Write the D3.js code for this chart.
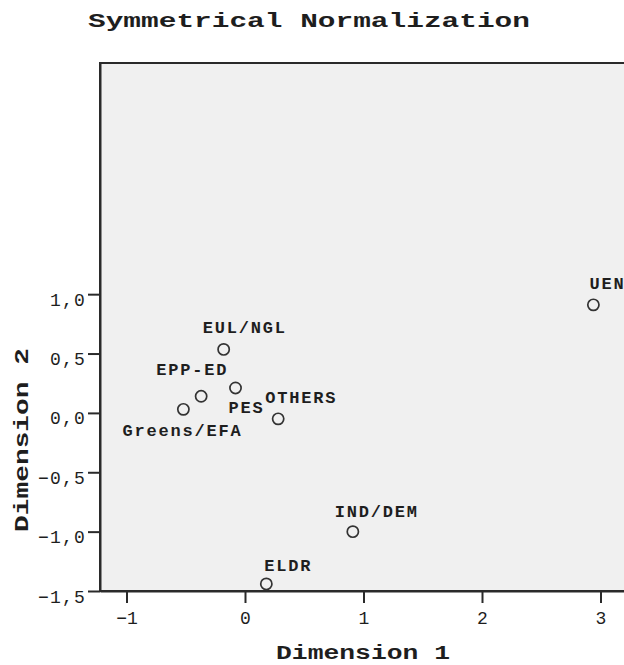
<!DOCTYPE html>
<html>
<head>
<meta charset="utf-8">
<script src="https://cdn.jsdelivr.net/npm/d3@7"></script>
<style>
  html, body { margin: 0; padding: 0; background: #ffffff; }
  svg { display: block; }
</style>
</head>
<body>
<script>
// ---- data ----
const categories = ["UEN", "EUL/NGL", "EPP-ED", "PES", "Greens/EFA", "OTHERS", "IND/DEM", "ELDR"];
const dim1 = [2.94, -0.18, -0.37, -0.08, -0.52, 0.28, 0.91, 0.18];
const dim2 = [0.91, 0.535, 0.14, 0.21, 0.03, -0.05, -1.0, -1.44];
const xTicks = [-1, 0, 1, 2, 3];
const yTicks = [-1.5, -1, -0.5, 0, 0.5, 1];
const title = "Symmetrical Normalization";
const xTitle = "Dimension 1";
const yTitle = "Dimension 2";

// ---- layout (label placement offsets in px, not data) ----
const labelOffsets = [[-4, -16], [-21, -16], [-45, -21], [-7, 25], [-61, 27], [-13, -16], [-18, -15], [-2, -13]];

const W = 624, H = 665;
const plot = { left: 100, top: 63, right: 626, bottom: 591 };

const svg = d3.select("body").append("svg").attr("width", W).attr("height", H);

const x = d3.scaleLinear().domain([-1.2236, 3.2152]).range([plot.left, plot.right]);
const y = d3.scaleLinear().domain([-1.5, 2.947]).range([plot.bottom, plot.top]);

const mono = "'Liberation Mono', 'DejaVu Sans Mono', monospace";
const ink = "#1e1e1e";

// plot background + frame
svg.append("rect")
  .attr("x", plot.left).attr("y", plot.top)
  .attr("width", plot.right - plot.left).attr("height", plot.bottom - plot.top)
  .attr("fill", "#f0f0f0").attr("stroke", "#2a2a2a").attr("stroke-width", 2);

// x axis
const fmt = d => d3.format(".1f")(d).replace(".", ",");
const gx = svg.append("g").attr("transform", `translate(0,${plot.bottom})`)
  .call(d3.axisBottom(x).tickValues(xTicks).tickSize(12).tickSizeOuter(0).tickFormat(d3.format("d")));
gx.select(".domain").attr("stroke", "#2a2a2a").attr("stroke-width", 2);
gx.selectAll(".tick line").attr("stroke", "#2a2a2a").attr("stroke-width", 2);
gx.selectAll(".tick text")
  .attr("y", 33).attr("dy", 0)
  .attr("font-family", mono).attr("font-size", 18).attr("fill", ink);

// y axis
const gy = svg.append("g").attr("transform", `translate(${plot.left},0)`)
  .call(d3.axisLeft(y).tickValues(yTicks).tickSize(12).tickSizeOuter(0).tickFormat(fmt));
gy.select(".domain").attr("stroke", "#2a2a2a").attr("stroke-width", 2);
gy.selectAll(".tick line").attr("stroke", "#2a2a2a").attr("stroke-width", 2);
gy.selectAll(".tick text")
  .attr("x", -14).attr("dy", 11)
  .attr("font-family", mono).attr("font-size", 18).attr("letter-spacing", 1.2).attr("fill", ink);

// points
const pts = categories.map((c, i) => ({ name: c, d1: dim1[i], d2: dim2[i], off: labelOffsets[i] }));
svg.append("g").selectAll("circle").data(pts).join("circle")
  .attr("cx", d => x(d.d1)).attr("cy", d => y(d.d2)).attr("r", 5.6)
  .attr("fill", "none").attr("stroke", "#333").attr("stroke-width", 1.7);

svg.append("g").selectAll("text").data(pts).join("text")
  .attr("x", d => x(d.d1) + d.off[0]).attr("y", d => y(d.d2) + d.off[1])
  .attr("font-family", mono).attr("font-weight", "bold").attr("font-size", 17)
  .attr("letter-spacing", 1.8).attr("fill", ink)
  .text(d => d.name);

// titles
svg.append("text")
  .attr("x", 88).attr("y", 27)
  .attr("font-family", mono).attr("font-weight", "bold").attr("font-size", 20)
  .attr("textLength", 442).attr("lengthAdjust", "spacingAndGlyphs").attr("fill", ink)
  .text(title);

svg.append("text")
  .attr("x", 276).attr("y", 659)
  .attr("font-family", mono).attr("font-weight", "bold").attr("font-size", 20)
  .attr("textLength", 174).attr("lengthAdjust", "spacingAndGlyphs").attr("fill", ink)
  .text(xTitle);

svg.append("text")
  .attr("transform", "translate(28,532) rotate(-90)")
  .attr("font-family", mono).attr("font-weight", "bold").attr("font-size", 20)
  .attr("textLength", 184).attr("lengthAdjust", "spacingAndGlyphs").attr("fill", ink)
  .text(yTitle);
</script>
</body>
</html>
